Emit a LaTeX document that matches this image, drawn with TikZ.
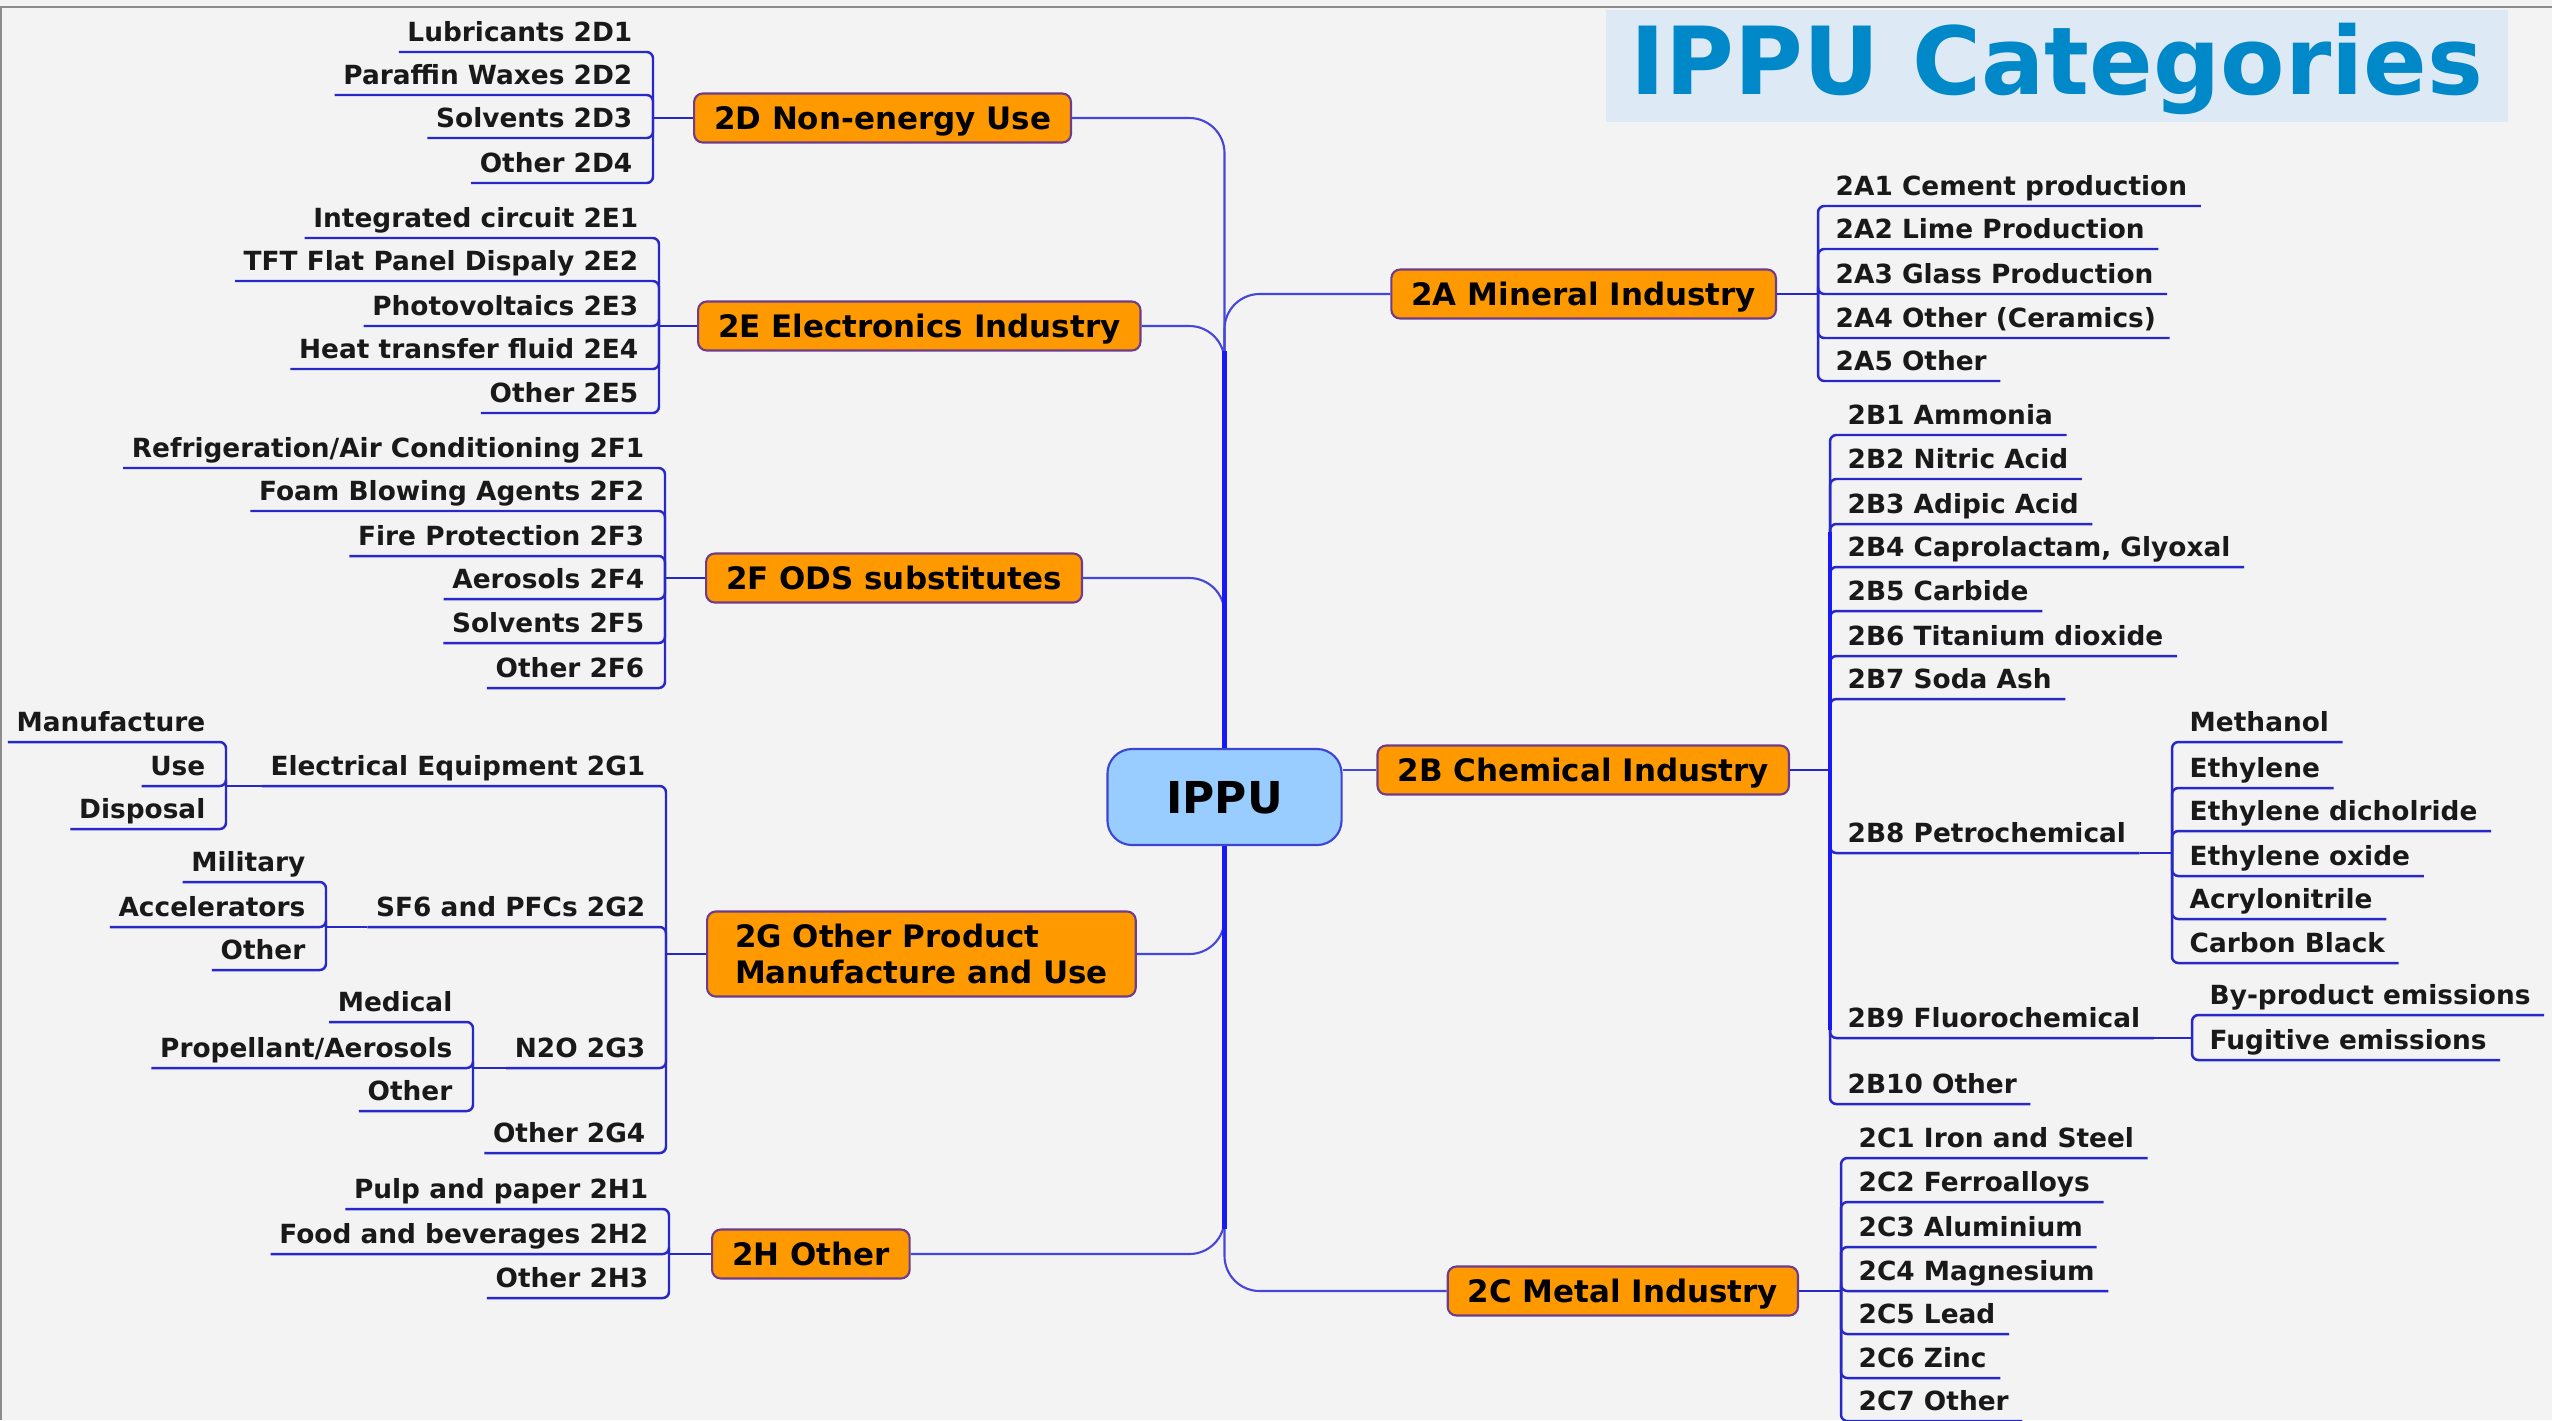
\documentclass[tikz,border=0pt]{standalone}
\usepackage{fontspec}
\setmainfont{DejaVu Sans}
\usepackage{xcolor}
\usepackage{tikz}
\usetikzlibrary{positioning,calc}
\definecolor{ippuBlue}{RGB}{0,136,200}
\definecolor{titleFill}{RGB}{221,233,245}
\definecolor{rootFill}{RGB}{153,204,255}
\definecolor{rootEdge}{RGB}{60,70,210}
\definecolor{catFill}{RGB}{255,153,0}
\definecolor{catEdge}{RGB}{110,60,140}
\definecolor{twigBlue}{RGB}{40,40,200}
\definecolor{branchBlue}{RGB}{70,70,215}
\definecolor{trunkBlue}{RGB}{25,25,245}
\definecolor{pageGray}{RGB}{243,243,243}
\tikzset{
  ippu/title/.style={fill=titleFill, text=ippuBlue, minimum width=9.01cm,
                     minimum height=1.12cm, font=\fontsize{26.7}{30}\selectfont\bfseries,
                     text height=19.5pt, text depth=3.5pt},
  ippu/root/.style={draw=rootEdge, fill=rootFill, line width=0.6pt, rounded corners=7pt,
                    minimum width=2.34cm, minimum height=0.96cm,
                    font=\fontsize{12.5}{15}\selectfont\bfseries,
                    text height=9.1pt, text depth=0pt},
  ippu/cat/.style={draw=catEdge, fill=catFill, line width=0.6pt, rounded corners=2.5pt,
                   minimum height=0.49cm, inner xsep=0.2cm,
                   font=\fontsize{8.8}{10.3}\selectfont\bfseries,
                   text height=6.4pt, text depth=0pt},
  ippu/leaf/.style={font=\fontsize{7.5}{9}\selectfont\bfseries, text=black!90,
                    text height=5.5pt, text depth=0pt, inner ysep=0.1cm},
  ippu/leaf left/.style={ippu/leaf, anchor=south east, inner xsep=0.08cm},
  ippu/leaf right/.style={ippu/leaf, anchor=south west, inner xsep=0.13cm},
  ippu/branch/.style={draw=branchBlue, line width=0.6pt, rounded corners=10pt},
  ippu/trunk/.style={draw=trunkBlue, line width=1.3pt},
  ippu/twig/.style={draw=twigBlue, line width=0.7pt, rounded corners=1.8pt},
}

\begin{document}
\begin{tikzpicture}[x=0.01cm, y=-0.01cm]

  % ---------------- page ----------------
  \useasboundingbox (0,0) rectangle (2552,1420);
  \fill[pageGray] (0,0) rectangle (2552,1420);
  \draw[black!45, line width=0.8pt] (0,7) -- (2552,7);
  \draw[black!45, line width=0.8pt] (1,7) -- (1,1420);

  \node[ippu/title] (title) at (2057,66) {IPPU Categories};

  % ---------------- centre and categories ----------------
  \node[ippu/root] (ippu) at (1224.5,797) {IPPU};

  \node[ippu/cat, anchor=west] (d2) at (693,118) {2D Non-energy Use};
  \node[ippu/cat, anchor=west] (e2) at (697,326) {2E Electronics Industry};
  \node[ippu/cat, anchor=west] (f2) at (705,578) {2F ODS substitutes};
  \node[ippu/cat, anchor=west, align=left, inner xsep=0.28cm, minimum height=0.85cm,
        text height=, text depth=] (g2) at (706,954)
    {2G Other Product\\Manufacture and Use};
  \node[ippu/cat, anchor=west] (h2) at (711,1254) {2H Other};

  \node[ippu/cat, anchor=east] (a2) at (1777,294) {2A Mineral Industry};
  \node[ippu/cat, anchor=east] (b2) at (1790,770) {2B Chemical Industry};
  \node[ippu/cat, anchor=east] (c2) at (1799,1291) {2C Metal Industry};

  % main branches into the trunk
  \draw[ippu/branch] (d2.east) -| (ippu.north);
  \draw[ippu/branch] (e2.east) -| (ippu.north);
  \draw[ippu/branch] (f2.east) -| (ippu.north);
  \draw[ippu/branch] (a2.west) -| (ippu.north);
  \draw[ippu/branch] (g2.east) -| (ippu.south);
  \draw[ippu/branch] (h2.east) -| (ippu.south);
  \draw[ippu/branch] (c2.west) -| (ippu.south);
  \draw[ippu/branch] (b2.west -| ippu.east) -- (b2.west);

  \coordinate (trunktop) at ($(ippu.north |- e2.east)+(0,25)$);
  \coordinate (trunkbot) at ($(ippu.south |- h2.east)+(0,-25)$);
  \draw[ippu/trunk] (trunktop) -- (ippu.north);
  \draw[ippu/trunk] (ippu.south) -- (trunkbot);

  % ---------------- 2D ----------------
  \coordinate (dbr) at (653,118);
  \node[ippu/leaf left] (d21) at (641,52)  {Lubricants 2D1};
  \node[ippu/leaf left] (d22) at (641,95)  {Paraffin Waxes 2D2};
  \node[ippu/leaf left] (d23) at (641,138) {Solvents 2D3};
  \node[ippu/leaf left] (d24) at (641,183) {Other 2D4};
  \draw[ippu/twig] (d2.west) -- (dbr);
  \draw[ippu/twig] (dbr) |- (d21.south west);
  \draw[ippu/twig] (dbr) |- (d22.south west);
  \draw[ippu/twig] (dbr) |- (d23.south west);
  \draw[ippu/twig] (dbr) |- (d24.south west);

  % ---------------- 2E ----------------
  \coordinate (ebr) at (659,326);
  \node[ippu/leaf left] (e21) at (647,238) {Integrated circuit 2E1};
  \node[ippu/leaf left] (e22) at (647,281) {TFT Flat Panel Dispaly 2E2};
  \node[ippu/leaf left] (e23) at (647,326) {Photovoltaics 2E3};
  \node[ippu/leaf left] (e24) at (647,369) {Heat transfer fluid 2E4};
  \node[ippu/leaf left] (e25) at (647,413) {Other 2E5};
  \draw[ippu/twig] (e2.west) -- (ebr);
  \draw[ippu/twig] (ebr) |- (e21.south west);
  \draw[ippu/twig] (ebr) |- (e22.south west);
  \draw[ippu/twig] (ebr) |- (e23.south west);
  \draw[ippu/twig] (ebr) |- (e24.south west);
  \draw[ippu/twig] (ebr) |- (e25.south west);

  % ---------------- 2F ----------------
  \coordinate (fbr) at (665,578);
  \node[ippu/leaf left] (f21) at (653,468) {Refrigeration/Air Conditioning 2F1};
  \node[ippu/leaf left] (f22) at (653,511) {Foam Blowing Agents 2F2};
  \node[ippu/leaf left] (f23) at (653,556) {Fire Protection 2F3};
  \node[ippu/leaf left] (f24) at (653,599) {Aerosols 2F4};
  \node[ippu/leaf left] (f25) at (653,643) {Solvents 2F5};
  \node[ippu/leaf left] (f26) at (653,688) {Other 2F6};
  \draw[ippu/twig] (f2.west) -- (fbr);
  \draw[ippu/twig] (fbr) |- (f21.south west);
  \draw[ippu/twig] (fbr) |- (f22.south west);
  \draw[ippu/twig] (fbr) |- (f23.south west);
  \draw[ippu/twig] (fbr) |- (f24.south west);
  \draw[ippu/twig] (fbr) |- (f25.south west);
  \draw[ippu/twig] (fbr) |- (f26.south west);

  % ---------------- 2G ----------------
  \coordinate (gbr) at (666,954);
  \node[ippu/leaf left] (g21) at (654,786)  {Electrical Equipment 2G1};
  \node[ippu/leaf left] (g22) at (654,927)  {SF6 and PFCs 2G2};
  \node[ippu/leaf left] (g23) at (654,1068) {N2O 2G3};
  \node[ippu/leaf left] (g24) at (654,1153) {Other 2G4};
  \draw[ippu/twig] (g2.west) -- (gbr);
  \draw[ippu/twig] (gbr) |- (g21.south west);
  \draw[ippu/twig] (gbr) |- (g22.south west);
  \draw[ippu/twig] (gbr) |- (g23.south west);
  \draw[ippu/twig] (gbr) |- (g24.south west);

  % 2G1 sub-items
  \coordinate (g1br) at (226,786);
  \node[ippu/leaf left] (g1a) at (214,742) {Manufacture};
  \node[ippu/leaf left] (g1b) at (214,786) {Use};
  \node[ippu/leaf left] (g1c) at (214,829) {Disposal};
  \draw[ippu/twig] (g21.south west) -- (g1br);
  \draw[ippu/twig] (g1br) |- (g1a.south west);
  \draw[ippu/twig] (g1br) |- (g1b.south west);
  \draw[ippu/twig] (g1br) |- (g1c.south west);

  % 2G2 sub-items
  \coordinate (g2br) at (326,927);
  \node[ippu/leaf left] (g2a) at (314,882) {Military};
  \node[ippu/leaf left] (g2b) at (314,927) {Accelerators};
  \node[ippu/leaf left] (g2c) at (314,970) {Other};
  \draw[ippu/twig] (g22.south west) -- (g2br);
  \draw[ippu/twig] (g2br) |- (g2a.south west);
  \draw[ippu/twig] (g2br) |- (g2b.south west);
  \draw[ippu/twig] (g2br) |- (g2c.south west);

  % 2G3 sub-items
  \coordinate (g3br) at (473,1068);
  \node[ippu/leaf left] (g3a) at (461,1022) {Medical};
  \node[ippu/leaf left] (g3b) at (461,1068) {Propellant/Aerosols};
  \node[ippu/leaf left] (g3c) at (461,1111) {Other};
  \draw[ippu/twig] (g23.south west) -- (g3br);
  \draw[ippu/twig] (g3br) |- (g3a.south west);
  \draw[ippu/twig] (g3br) |- (g3b.south west);
  \draw[ippu/twig] (g3br) |- (g3c.south west);

  % ---------------- 2H ----------------
  \coordinate (hbr) at (669,1254);
  \node[ippu/leaf left] (h21) at (657,1209) {Pulp and paper 2H1};
  \node[ippu/leaf left] (h22) at (657,1254) {Food and beverages 2H2};
  \node[ippu/leaf left] (h23) at (657,1298) {Other 2H3};
  \draw[ippu/twig] (h2.west) -- (hbr);
  \draw[ippu/twig] (hbr) |- (h21.south west);
  \draw[ippu/twig] (hbr) |- (h22.south west);
  \draw[ippu/twig] (hbr) |- (h23.south west);

  % ---------------- 2A ----------------
  \coordinate (abr) at (1818,294);
  \node[ippu/leaf right] (a21) at (1822,206) {2A1 Cement production};
  \node[ippu/leaf right] (a22) at (1822,249) {2A2 Lime Production};
  \node[ippu/leaf right] (a23) at (1822,294) {2A3 Glass Production};
  \node[ippu/leaf right] (a24) at (1822,338) {2A4 Other (Ceramics)};
  \node[ippu/leaf right] (a25) at (1822,381) {2A5 Other};
  \draw[ippu/twig] (a2.east) -- (abr);
  \draw[ippu/twig] (abr) |- (a21.south east);
  \draw[ippu/twig] (abr) |- (a22.south east);
  \draw[ippu/twig] (abr) |- (a23.south east);
  \draw[ippu/twig] (abr) |- (a24.south east);
  \draw[ippu/twig] (abr) |- (a25.south east);

  % ---------------- 2B ----------------
  \coordinate (bbr) at (1830,770);
  \node[ippu/leaf right] (b21) at (1834,435)  {2B1 Ammonia};
  \node[ippu/leaf right] (b22) at (1834,479)  {2B2 Nitric Acid};
  \node[ippu/leaf right] (b23) at (1834,524)  {2B3 Adipic Acid};
  \node[ippu/leaf right] (b24) at (1834,567)  {2B4 Caprolactam, Glyoxal};
  \node[ippu/leaf right] (b25) at (1834,611)  {2B5 Carbide};
  \node[ippu/leaf right] (b26) at (1834,656)  {2B6 Titanium dioxide};
  \node[ippu/leaf right] (b27) at (1834,699)  {2B7 Soda Ash};
  \node[ippu/leaf right] (b28) at (1834,853)  {2B8 Petrochemical};
  \node[ippu/leaf right] (b29) at (1834,1038) {2B9 Fluorochemical};
  \node[ippu/leaf right] (b210) at (1834,1104) {2B10 Other};
  \draw[ippu/twig] (b2.east) -- (bbr);
  \draw[ippu/twig] (bbr) |- (b21.south east);
  \draw[ippu/twig] (bbr) |- (b22.south east);
  \draw[ippu/twig] (bbr) |- (b23.south east);
  \draw[ippu/twig] (bbr) |- (b24.south east);
  \draw[ippu/twig] (bbr) |- (b25.south east);
  \draw[ippu/twig] (bbr) |- (b26.south east);
  \draw[ippu/twig] (bbr) |- (b27.south east);
  \draw[ippu/twig] (bbr) |- (b28.south east);
  \draw[ippu/twig] (bbr) |- (b29.south east);
  \draw[ippu/twig] (bbr) |- (b210.south east);
  % heavier stretch of the 2B spine
  \draw[ippu/trunk, line width=1.1pt]
    ($(bbr |- b23.south east)+(0,8)$) -- ($(bbr |- b29.south east)+(0,-8)$);

  % 2B8 sub-items
  \coordinate (b8br) at (2172,853);
  \node[ippu/leaf right] (b8a) at (2176,742) {Methanol};
  \node[ippu/leaf right] (b8b) at (2176,788) {Ethylene};
  \node[ippu/leaf right] (b8c) at (2176,831) {Ethylene dicholride};
  \node[ippu/leaf right] (b8d) at (2176,876) {Ethylene oxide};
  \node[ippu/leaf right] (b8e) at (2176,919) {Acrylonitrile};
  \node[ippu/leaf right] (b8f) at (2176,963) {Carbon Black};
  \draw[ippu/twig] (b28.south east) -- (b8br);
  \draw[ippu/twig] (b8br) |- (b8a.south east);
  \draw[ippu/twig] (b8br) |- (b8b.south east);
  \draw[ippu/twig] (b8br) |- (b8c.south east);
  \draw[ippu/twig] (b8br) |- (b8d.south east);
  \draw[ippu/twig] (b8br) |- (b8e.south east);
  \draw[ippu/twig] (b8br) |- (b8f.south east);

  % 2B9 sub-items
  \coordinate (b9br) at (2192,1038);
  \node[ippu/leaf right] (b9a) at (2196,1015) {By-product emissions};
  \node[ippu/leaf right] (b9b) at (2196,1060) {Fugitive emissions};
  \draw[ippu/twig] (b29.south east) -- (b9br);
  \draw[ippu/twig] (b9br) |- (b9a.south east);
  \draw[ippu/twig] (b9br) |- (b9b.south east);

  % ---------------- 2C ----------------
  \coordinate (cbr) at (1841,1291);
  \node[ippu/leaf right] (c21) at (1845,1158) {2C1 Iron and Steel};
  \node[ippu/leaf right] (c22) at (1845,1202) {2C2 Ferroalloys};
  \node[ippu/leaf right] (c23) at (1845,1247) {2C3 Aluminium};
  \node[ippu/leaf right] (c24) at (1845,1291) {2C4 Magnesium};
  \node[ippu/leaf right] (c25) at (1845,1334) {2C5 Lead};
  \node[ippu/leaf right] (c26) at (1845,1378) {2C6 Zinc};
  \node[ippu/leaf right] (c27) at (1845,1421) {2C7 Other};
  \draw[ippu/twig] (c2.east) -- (cbr);
  \draw[ippu/twig] (cbr) |- (c21.south east);
  \draw[ippu/twig] (cbr) |- (c22.south east);
  \draw[ippu/twig] (cbr) |- (c23.south east);
  \draw[ippu/twig] (cbr) |- (c24.south east);
  \draw[ippu/twig] (cbr) |- (c25.south east);
  \draw[ippu/twig] (cbr) |- (c26.south east);
  \draw[ippu/twig] (cbr) |- (c27.south east);

\end{tikzpicture}
\end{document}
